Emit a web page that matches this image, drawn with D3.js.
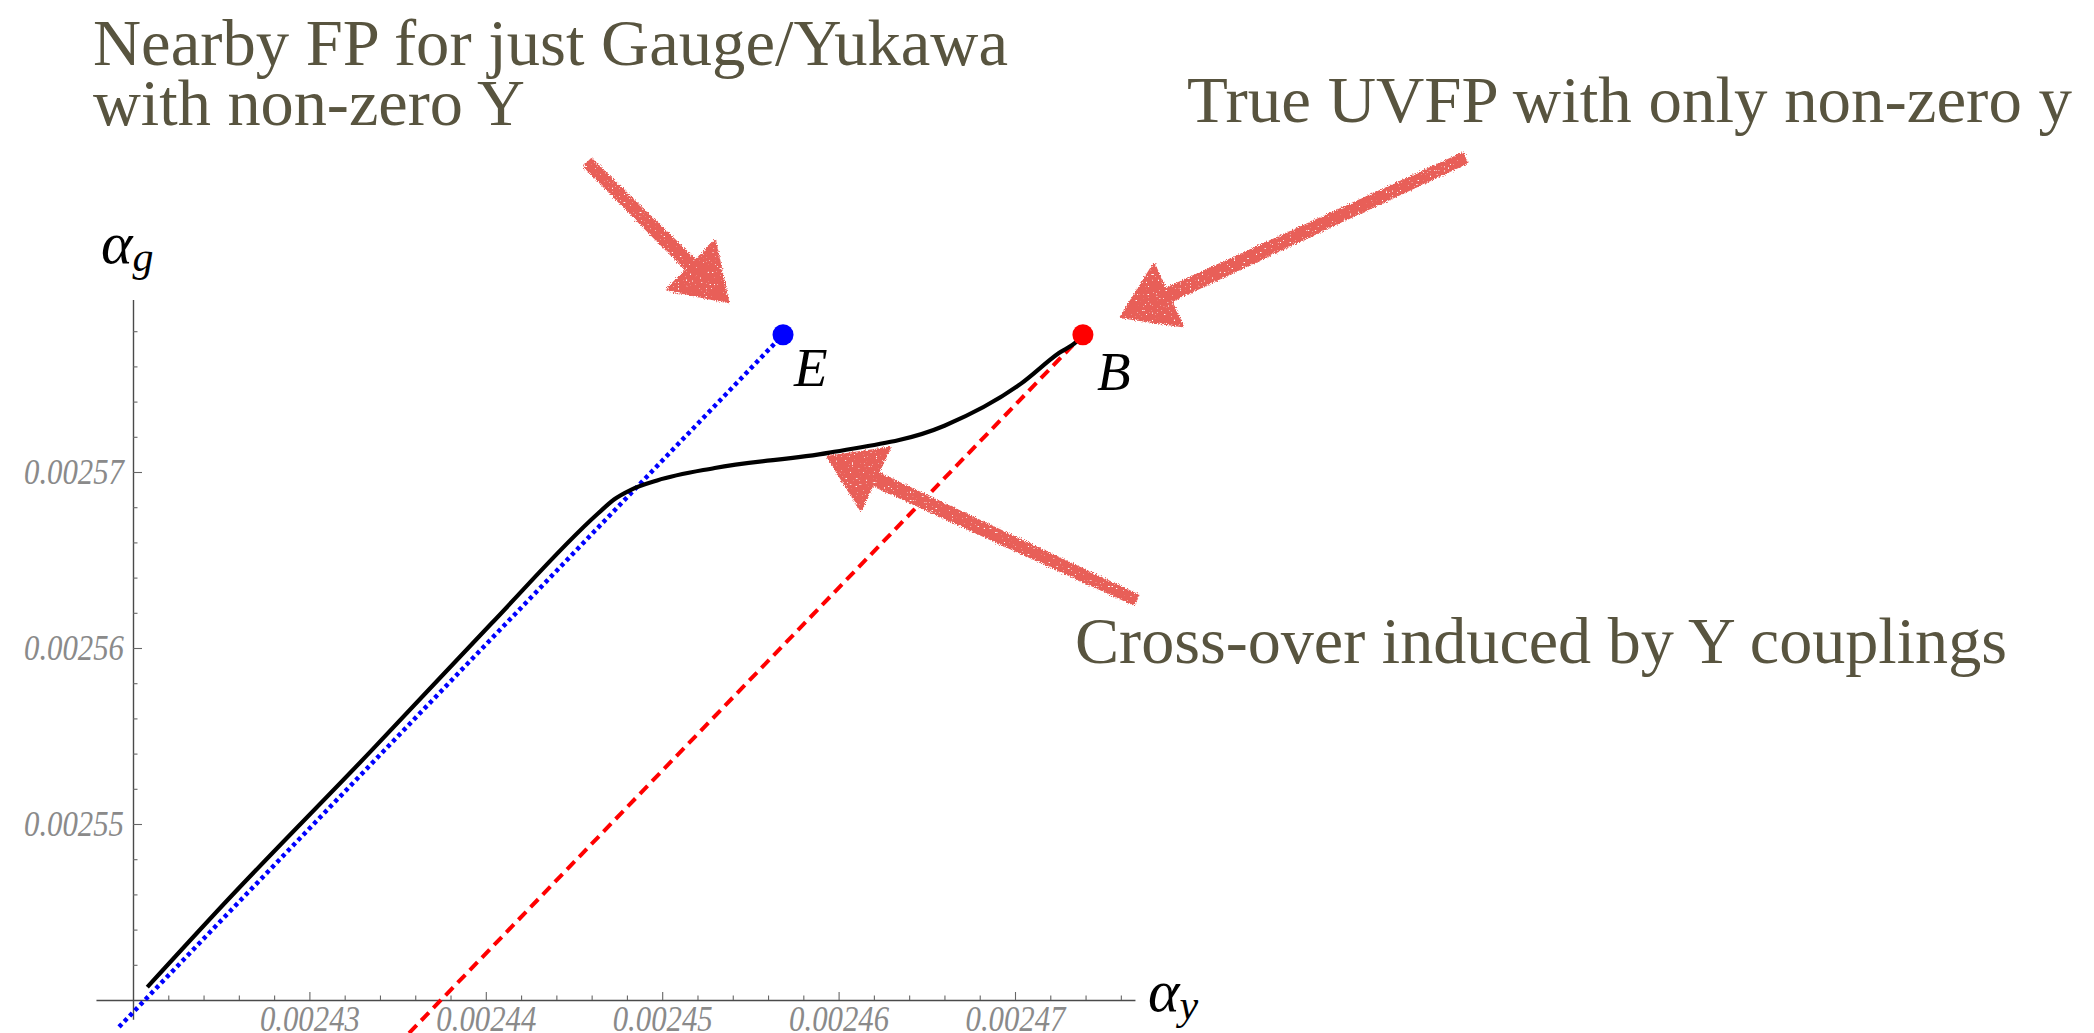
<!DOCTYPE html>
<html>
<head>
<meta charset="utf-8">
<script src="https://cdn.jsdelivr.net/npm/d3@7"></script>
<style>
  html, body { margin: 0; padding: 0; background: #ffffff; }
  svg { display: block; }
</style>
</head>
<body>
<svg id="chart" width="2094" height="1033"></svg>
<script>
// RG trajectory in the (alpha_y, alpha_g) plane
const flowAlphaY = [0.00242081, 0.00242511, 0.00243346, 0.00244029, 0.00244636, 0.00244727,
                    0.00244823, 0.00244971, 0.00245298, 0.00245949, 0.00246600, 0.00247034,
                    0.00247249, 0.00247349, 0.00247385];
const flowAlphaG = [0.00254073, 0.00254541, 0.00255411, 0.00256136, 0.00256764, 0.00256844,
                    0.00256899, 0.00256952, 0.00257023, 0.00257110, 0.00257263, 0.00257502,
                    0.00257676, 0.00257741, 0.00257780];

// Fixed points
const fixedPointNames = ["E", "B"];
const fixedPointAlphaY = [0.00245685, 0.00247385];
const fixedPointAlphaG = [0.00257780, 0.00257780];

// Gauge/Yukawa line through E (dotted blue) and UV line through B (dashed red)
const gaugeYukawaAlphaY = [0.00241921, 0.00245685];
const gaugeYukawaAlphaG = [0.00253847, 0.00257780];
const uvLineAlphaY = [0.00243565, 0.00247385];
const uvLineAlphaG = [0.00253812, 0.00257780];

// Axis ticks
const xMajorTicks = [0.00243, 0.00244, 0.00245, 0.00246, 0.00247];
const xTickLabels = ["0.00243", "0.00244", "0.00245", "0.00246", "0.00247"];
const yMajorTicks = [0.00255, 0.00256, 0.00257];
const yTickLabels = ["0.00255", "0.00256", "0.00257"];
const xAxisExtent = [0.0024179, 0.0024768];
const yAxisExtent = [0.0025389, 0.0025798];

// Annotation arrows (tail -> tip, in data units)
const arrowTailY = [0.00244579, 0.00249551, 0.00247686];
const arrowTailG = [0.00258756, 0.00258784, 0.00256273];
const arrowTipY  = [0.00245373, 0.00247601, 0.00245940];
const arrowTipG  = [0.00257966, 0.00257881, 0.00257085];

// Annotation texts
const noteLines = ["Nearby FP for just Gauge/Yukawa", "with non-zero Y",
                   "True UVFP with only non-zero y", "Cross-over induced by Y couplings"];

const svg = d3.select("#chart");
svg.append("rect").attr("width", 2094).attr("height", 1033).attr("fill", "#ffffff");

const x = d3.scaleLinear().domain([0.00242, 0.00247]).range([133, 1015]);
const y = d3.scaleLinear().domain([0.00254, 0.00257]).range([1000, 472]);

// chalk texture for the hand-drawn arrows
const defs = svg.append("defs");
const chalk = defs.append("filter").attr("id", "chalk")
  .attr("x", "-20%").attr("y", "-20%").attr("width", "140%").attr("height", "140%");
chalk.append("feTurbulence").attr("type", "fractalNoise").attr("baseFrequency", 0.9)
  .attr("numOctaves", 2).attr("seed", 4).attr("result", "noise");
chalk.append("feDisplacementMap").attr("in", "SourceGraphic").attr("in2", "noise")
  .attr("scale", 5).attr("xChannelSelector", "R").attr("yChannelSelector", "G").attr("result", "rough");
chalk.append("feTurbulence").attr("type", "fractalNoise").attr("baseFrequency", 0.5)
  .attr("numOctaves", 2).attr("seed", 11).attr("result", "grain");
chalk.append("feColorMatrix").attr("in", "grain").attr("type", "matrix")
  .attr("values", "0 0 0 0 0  0 0 0 0 0  0 0 0 0 0  -16 0 0 0 12.2").attr("result", "mask");
chalk.append("feComposite").attr("in", "rough").attr("in2", "mask").attr("operator", "in");

// ----- axes -----
const axisColor = "#4a4a4a";
const tickFont = "'Liberation Serif', 'Times New Roman', serif";

const xAxisScale = d3.scaleLinear().domain(xAxisExtent).range(xAxisExtent.map(x));
const yAxisScale = d3.scaleLinear().domain(yAxisExtent).range(yAxisExtent.map(y));

const xMinor = d3.range(1, 29).filter(i => i % 5 !== 0).map(i => +(0.00242 + i * 2e-6).toFixed(6));
const yMinor = d3.range(1, 20).filter(i => i % 5 !== 0).map(i => +(0.00254 + i * 2e-6).toFixed(6));

const gx = svg.append("g").attr("transform", `translate(0,${y(0.00254)})`);
gx.call(d3.axisBottom(xAxisScale).tickValues(xMinor).tickSizeInner(-4.5).tickSizeOuter(0).tickFormat(""));
const gxMajor = svg.append("g").attr("transform", `translate(0,${y(0.00254)})`);
gxMajor.call(d3.axisBottom(xAxisScale).tickValues(xMajorTicks).tickSizeInner(-8).tickSizeOuter(0)
  .tickFormat((d, i) => xTickLabels[i]));
gxMajor.select(".domain").remove();

const gy = svg.append("g").attr("transform", `translate(${x(0.00242)},0)`);
gy.call(d3.axisLeft(yAxisScale).tickValues(yMinor).tickSizeInner(-4.5).tickSizeOuter(0).tickFormat(""));
const gyMajor = svg.append("g").attr("transform", `translate(${x(0.00242)},0)`);
gyMajor.call(d3.axisLeft(yAxisScale).tickValues(yMajorTicks).tickSizeInner(-9).tickSizeOuter(0)
  .tickFormat((d, i) => yTickLabels[i]));
gyMajor.select(".domain").remove();

svg.selectAll(".domain").attr("stroke", axisColor).attr("stroke-width", 1.4);
svg.selectAll(".tick line").attr("stroke", "#666").attr("stroke-width", 1.1);
svg.selectAll(".tick text")
  .attr("fill", "#8a8a8a").attr("font-family", tickFont).attr("font-style", "italic")
  .attr("font-size", 35).attr("textLength", 100).attr("lengthAdjust", "spacingAndGlyphs");
gxMajor.selectAll(".tick text").attr("x", -50).attr("text-anchor", "start").attr("y", 31).attr("dy", 0);
gyMajor.selectAll(".tick text").attr("x", -109).attr("text-anchor", "start").attr("dy", "0.33em");

// axis labels
const axisLabel = (px, py, sub) => {
  const t = svg.append("text").attr("x", px).attr("y", py)
    .attr("font-family", tickFont).attr("font-style", "italic").attr("fill", "#000");
  t.append("tspan").attr("font-size", 60).text("α");
  t.append("tspan").attr("font-size", 42).attr("dy", 8).text(sub);
};
axisLabel(101, 263, "g");
axisLabel(1148, 1011, "y");

// ----- reference lines -----
const seg = (xs, gs) => xs.map((v, i) => [x(v), y(gs[i])]);
const line = d3.line();

svg.append("path").attr("d", line(seg(uvLineAlphaY, uvLineAlphaG)))
  .attr("fill", "none").attr("stroke", "#ff0000").attr("stroke-width", 4)
  .attr("stroke-dasharray", "11,6.5");

svg.append("path").attr("d", line(seg(gaugeYukawaAlphaY, gaugeYukawaAlphaG)))
  .attr("fill", "none").attr("stroke", "#0000ff").attr("stroke-width", 4.5)
  .attr("stroke-dasharray", "4,3.6");

// ----- trajectory -----
const flow = flowAlphaY.map((v, i) => [x(v), y(flowAlphaG[i])]);
svg.append("path").attr("d", d3.line().curve(d3.curveMonotoneX)(flow))
  .attr("fill", "none").attr("stroke", "#000").attr("stroke-width", 4.2);

// ----- fixed points -----
const fpColors = ["#0000ff", "#ff0000"];
const fpLabelDx = [11, 14];
const fpLabelDy = [51, 55];
fixedPointNames.forEach((name, i) => {
  const cx = x(fixedPointAlphaY[i]), cy = y(fixedPointAlphaG[i]);
  svg.append("circle").attr("cx", cx).attr("cy", cy).attr("r", 10.5).attr("fill", fpColors[i]);
  svg.append("text").attr("x", cx + fpLabelDx[i]).attr("y", cy + fpLabelDy[i])
    .attr("font-family", tickFont).attr("font-style", "italic").attr("font-size", 55)
    .attr("fill", "#000").text(name);
});

// ----- chalk arrows -----
function arrowPath(tx, ty, px, py) {
  const len = Math.hypot(px - tx, py - ty);
  const ux = (px - tx) / len, uy = (py - ty) / len;
  const nx = -uy, ny = ux;
  const headLen = 52, headHalf = 34, w0 = 5, w1 = 6.5;
  const bx = px - ux * headLen, by = py - uy * headLen;
  const pts = [
    [tx + nx * w0, ty + ny * w0],
    [bx + nx * w1, by + ny * w1],
    [bx + nx * headHalf, by + ny * headHalf],
    [px, py],
    [bx - nx * headHalf, by - ny * headHalf],
    [bx - nx * w1, by - ny * w1],
    [tx - nx * w0, ty - ny * w0]
  ];
  return d3.line()(pts) + "Z";
}
const arrows = svg.append("g").attr("filter", "url(#chalk)");
arrowTailY.forEach((v, i) => {
  arrows.append("path")
    .attr("d", arrowPath(x(v), y(arrowTailG[i]), x(arrowTipY[i]), y(arrowTipG[i])))
    .attr("fill", "#e85f59").attr("stroke", "#e85f59").attr("stroke-width", 2.5)
    .attr("stroke-linejoin", "round");
});

// ----- annotation text -----
const noteFont = "'Liberation Serif', 'Times New Roman', serif";
const noteX = [93, 93, 1187, 1075];
const noteBase = [65, 125, 122, 663];
const noteWidth = [915, 432, 885, 932];
noteLines.forEach((s, i) => {
  svg.append("text").attr("x", noteX[i]).attr("y", noteBase[i])
    .attr("font-family", noteFont).attr("font-size", 66).attr("fill", "#58543f")
    .attr("textLength", noteWidth[i]).attr("lengthAdjust", "spacingAndGlyphs")
    .text(s);
});
</script>
</body>
</html>
